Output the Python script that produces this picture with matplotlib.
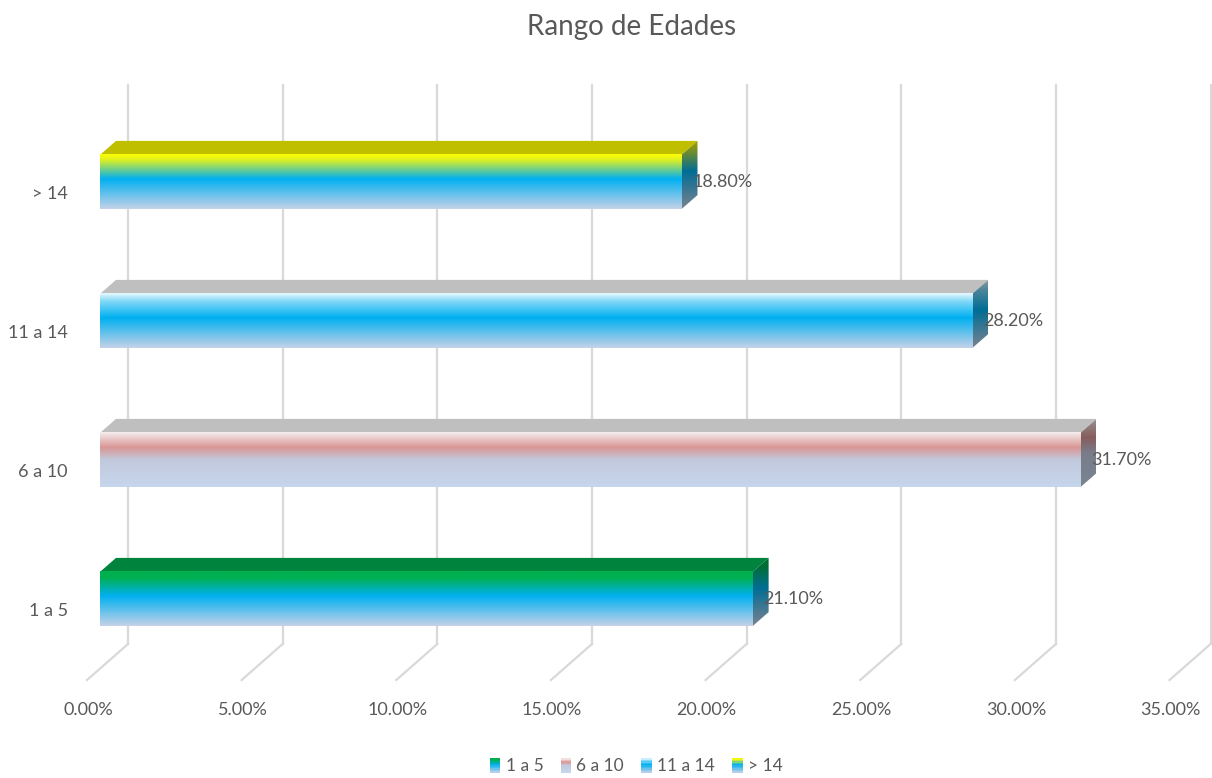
import matplotlib
matplotlib.use("Agg")
import matplotlib.pyplot as plt
import numpy as np
from matplotlib.colors import LinearSegmentedColormap, to_rgb
from matplotlib.patches import Polygon, Rectangle
from matplotlib.legend_handler import HandlerBase

plt.rcParams['font.family'] = ['Lato', 'DejaVu Sans']

title = "Rango de Edades"
categories = ["1 a 5", "6 a 10", "11 a 14", "> 14"]
values = [21.1, 31.7, 28.2, 18.8]
ticks = [0, 5, 10, 15, 20, 25, 30, 35]

# colour stops of each bar's front face (top -> bottom) and its top face
front_stops = [
    [(0.0, '#00B050'), (0.12, '#00B050'), (0.45, '#00B0F0'), (1.0, '#C6D2E8')],
    [(0.0, '#F4EEEE'), (0.28, '#D99694'), (0.5, '#C2C9DD'), (1.0, '#C6D6EC')],
    [(0.0, '#E8F8FE'), (0.15, '#80D8F8'), (0.45, '#00B0F0'), (1.0, '#C6D2E8')],
    [(0.0, '#FFFF00'), (0.1, '#E0F020'), (0.45, '#00B0F0'), (1.0, '#C6D2E8')],
]
top_colors = ['#00843D', '#BFBFBF', '#BFBFBF', '#BFBF00']

# figure geometry (pixels)
W, H = 1212, 778
PX = 30.93      # pixels per percent
X0 = 100        # pixel of 0% on the bar front plane
Y0 = 599        # pixel row of first category
ROW = 139       # pixels between categories
BAR_H = 0.39
DX, DY = 16 / PX, 14 / ROW
TXT = '#595959'

def cmap_from(stops):
    return LinearSegmentedColormap.from_list('g', stops)

def darker(stops, f=0.62):
    return [(p, tuple(c * f for c in to_rgb(col))) for p, col in stops]

fig = plt.figure(figsize=(W / 100, H / 100), dpi=100)
ax = fig.add_axes([0, 0, 1, 1])
ax.set_axis_off()
xlim = (-X0 / PX, (W - X0) / PX)
ylim = ((Y0 - H) / ROW, Y0 / ROW)

grad = np.linspace(0, 1, 256).reshape(-1, 1)

# back wall gridlines and floor lines
y_back = (Y0 - 644) / ROW
y_top = (Y0 - 85) / ROW
y_front = (Y0 - 680) / ROW
for t in ticks:
    xb = t + 28 / PX
    ax.plot([xb, xb], [y_back, y_top], color='#D9D9D9', lw=1.6, zorder=1)
    ax.plot([xb, t - 13 / PX], [y_back, y_front], color='#D9D9D9', lw=1.6, zorder=1)
    ax.text(t - 12 / PX, (Y0 - 710) / ROW, f"{t:.2f}%", ha='center', va='center',
            fontsize=13, color=TXT)

for i, (cat, v) in enumerate(zip(categories, values)):
    y = i
    bot, top = y - BAR_H / 2, y + BAR_H / 2
    # top face
    ax.add_patch(Polygon([(0, top), (v, top), (v + DX, top + DY), (DX, top + DY)],
                         closed=True, color=top_colors[i], lw=0, zorder=3))
    # side face
    side = Polygon([(v, bot), (v, top), (v + DX, top + DY), (v + DX, bot + DY)],
                   closed=True, transform=ax.transData)
    im = ax.imshow(grad, cmap=cmap_from(darker(front_stops[i])), aspect='auto',
                   extent=(v, v + DX, bot, top + DY), origin='upper', zorder=3,
                   interpolation='bilinear')
    im.set_clip_path(side)
    # front face
    ax.imshow(grad, cmap=cmap_from(front_stops[i]), aspect='auto',
              extent=(0, v, bot, top), origin='upper', zorder=4,
              interpolation='bilinear')
    ax.text(v + 11 / PX, y, f"{v:.2f}%", ha='left', va='center', fontsize=13,
            color=TXT, zorder=5)
    ax.text(-32 / PX, y - 12 / ROW, cat, ha='right', va='center', fontsize=13,
            color=TXT)

ax.text((632 - X0) / PX, (Y0 - 27) / ROW, title, ha='center', va='center',
        fontsize=20, color=TXT)

ax.set_xlim(*xlim)
ax.set_ylim(*ylim)


class GradHandler(HandlerBase):
    def create_artists(self, legend, orig_handle, xdescent, ydescent, width,
                       height, fontsize, trans):
        stops = orig_handle.stops
        cm = cmap_from(stops)
        n = 10
        arts = []
        for k in range(n):
            arts.append(Rectangle((-xdescent, -ydescent + height * (n - 1 - k) / n),
                                  width, height / n, color=cm((k + 0.5) / n),
                                  lw=0, transform=trans))
        return arts


handles = []
for cat, st in zip(categories, front_stops):
    r = Rectangle((0, 0), 1, 1, label=cat)
    r.stops = st
    handles.append(r)

fig.legend(handles=handles, loc='center', bbox_to_anchor=(0.525, 0.015), ncol=4,
           frameon=False, fontsize=12.5, handlelength=0.6, handleheight=0.9,
           handletextpad=0.3, columnspacing=1.0, labelcolor=TXT,
           handler_map={Rectangle: GradHandler()})

fig.savefig('out.png', dpi=100)
